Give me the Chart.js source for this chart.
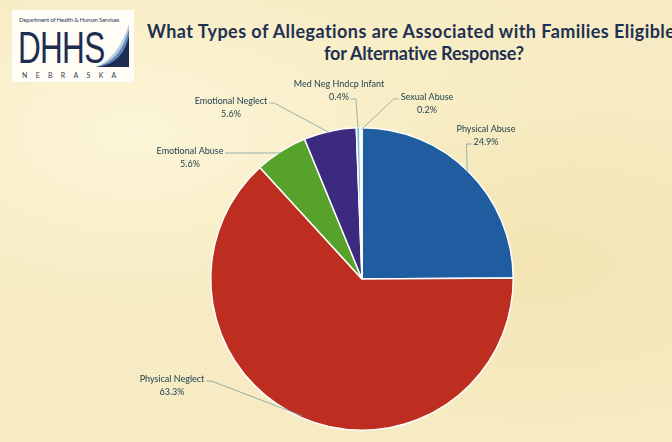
<!DOCTYPE html>
<html>
<head>
<meta charset="utf-8">
<script src="https://cdn.jsdelivr.net/npm/chart.js@4.4.1/dist/chart.umd.min.js"></script>
<style>
  html, body { margin: 0; padding: 0; }
  body {
    width: 672px; height: 442px; overflow: hidden; position: relative;
    background:
      radial-gradient(ellipse at 20% 30%, rgba(255,250,225,0.7), rgba(255,250,225,0) 40%),
      radial-gradient(ellipse at 80% 60%, rgba(240,220,160,0.45), rgba(240,220,160,0) 45%),
      radial-gradient(ellipse at 60% 15%, rgba(250,240,200,0.6), rgba(250,240,200,0) 35%),
      #f6ebc2;
    font-family: Lato, "Open Sans", sans-serif;
  }
  #logo {
    position: absolute; left: 12px; top: 10px; width: 122px; height: 72px;
    background: #fffdf6;
  }
  #logo .dept { position: absolute; left: 7px; top: 6px; font-size: 6px; color: #2b3b5a; letter-spacing: -0.2px; white-space: nowrap; }
  #logo .dhhs {
    position: absolute; left: 6px; top: 12px; font-family: "Liberation Sans", Arial, sans-serif;
    font-size: 45px; color: #1d2d4f; transform: scaleX(0.7); transform-origin: left top; letter-spacing: -1px;
  }
  #logo .ne { position: absolute; left: 10px; top: 61px; font-size: 7px; color: #2b3b5a; letter-spacing: 8.3px; white-space: nowrap; }
  #logo svg { position: absolute; left: 84px; top: 13px; }
  #title1, #title2 {
    position: absolute; font-weight: bold; font-size: 18px; line-height: 22px; color: #1f3152; white-space: nowrap;
  }
  #title1 { left: 147px; top: 20px; letter-spacing: 0.45px; }
  #title2 { left: 124px; width: 600px; text-align: center; top: 42px; letter-spacing: -0.2px; }
  canvas { position: absolute; left: 0; top: 0; }
</style>
</head>
<body>
<div id="logo">
  <div class="dept">Department of Health &amp; Human Services</div>
  <div class="dhhs">DHHS</div>
  <svg width="34" height="46" viewBox="0 0 34 46">
    <path d="M0 44 C14 38 26 24 33 1 L33 44 Z" fill="#b9cbe0"/>
    <path d="M0 44 C16 40 27 29 33 6 L33 44 Z" fill="#5f86b8"/>
    <path d="M0 44 C18 42 28 33 33 13 L33 44 Z" fill="#1d2d4f"/>
  </svg>
  <div class="ne">NEBRASKA</div>
</div>
<div id="title1">What Types of Allegations are Associated with Families Eligible</div>
<div id="title2">for Alternative Response?</div>
<canvas id="pie" width="672" height="442"></canvas>
<script>
const categories = ['Physical Abuse', 'Physical Neglect', 'Emotional Abuse', 'Emotional Neglect', 'Med Neg Hndcp Infant', 'Sexual Abuse'];
const percents = [24.9, 63.3, 5.6, 5.6, 0.4, 0.2];
const sliceColors = ['#1f5da0', '#bd2e20', '#56a22b', '#3b2a80', '#7cc3d2', '#eef3ee'];

// where each label sits (centre of first text line), and which side the leader leaves from
const labelLayout = [
    { x: 486, y: 129, side: 'left', line: 1 },
    { x: 172, y: 379, side: 'right', line: 0 },
    { x: 190, y: 151, side: 'right', line: 0 },
    { x: 231, y: 101, side: 'right', line: 0 },
    { x: 339, y: 84, side: 'right', line: 1 },
    { x: 427, y: 97, side: 'left', line: 0 }
];

const calloutPlugin = {
    id: 'callouts',
    afterDatasetsDraw(chart) {
        const ctx = chart.ctx;
        const arcs = chart.getDatasetMeta(0).data;
        ctx.save();
        ctx.font = '9px Lato, "Open Sans", sans-serif';
        ctx.textAlign = 'center';
        ctx.textBaseline = 'middle';
        arcs.forEach((arc, i) => {
            const p = arc.getProps(['x', 'y', 'startAngle', 'endAngle', 'outerRadius'], true);
            const mid = (p.startAngle + p.endAngle) / 2;
            const ex = p.x + Math.cos(mid) * (p.outerRadius - 2);
            const ey = p.y + Math.sin(mid) * (p.outerRadius - 2);
            const lay = labelLayout[i];
            const lines = [categories[i], percents[i].toFixed(1) + '%'];

            const w = ctx.measureText(lines[lay.line]).width;
            const ay = lay.y + lay.line * 13 + 2;
            const ax = lay.side === 'left' ? lay.x - w / 2 - 2 : lay.x + w / 2 + 2;
            const bx = lay.side === 'left' ? ax - 5 : ax + 5;
            ctx.strokeStyle = '#7f9fa0';
            ctx.lineWidth = 0.8;
            ctx.beginPath();
            ctx.moveTo(ax, ay);
            ctx.lineTo(bx, ay);
            ctx.lineTo(ex, ey);
            ctx.stroke();

            ctx.fillStyle = '#1f4050';
            lines.forEach((t, k) => ctx.fillText(t, lay.x, lay.y + k * 13));
        });
        ctx.restore();
    }
};

new Chart(document.getElementById('pie'), {
    type: 'pie',
    data: {
        labels: categories,
        datasets: [{
            data: percents,
            backgroundColor: sliceColors,
            borderColor: '#ffffff',
            borderWidth: 1.5
        }]
    },
    options: {
        responsive: false,
        animation: false,
        layout: { padding: { left: 210, right: 158, top: 126, bottom: 10 } },
        plugins: {
            legend: { display: false },
            tooltip: { enabled: false }
        }
    },
    plugins: [calloutPlugin]
});
</script>
</body>
</html>
